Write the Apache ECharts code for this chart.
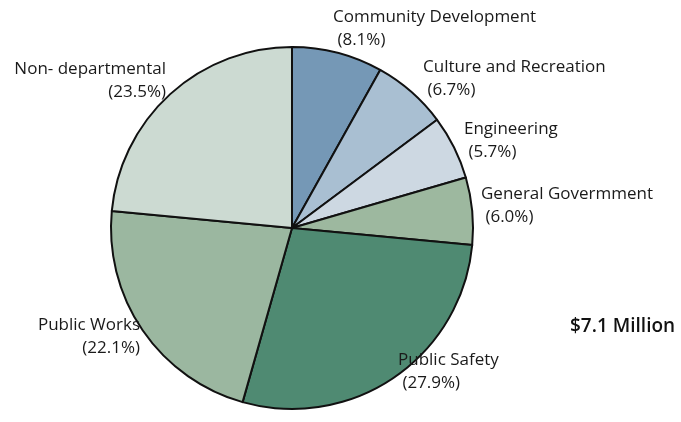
<!DOCTYPE html>
<html>
<head>
<meta charset="utf-8">
<script src="https://cdn.jsdelivr.net/npm/echarts@6/dist/echarts.min.js"></script>
<style>
  html, body { margin: 0; padding: 0; background: #fff; }
  #chart { width: 681px; height: 422px; }
</style>
</head>
<body>
<div id="chart"></div>
<script>
const categories = [
  'Community Development',
  'Culture and Recreation',
  'Engineering',
  'General Govermment',
  'Public Safety',
  'Public Works',
  'Non- departmental'
];
const shares = [8.1, 6.7, 5.7, 6.0, 27.9, 22.1, 23.5];
const totalLabel = '$7.1 Million';

const sliceColors = ['#7598b6', '#a9bfd2', '#cdd8e2', '#9db89f', '#4f8a72', '#9bb7a0', '#ccdad2'];
// where each label's anchor sits (x, y, align)
const labelSpots = [
  [333, 6, 'left'],
  [423, 56, 'left'],
  [464, 118, 'left'],
  [481, 183, 'left'],
  [398, 349, 'left'],
  [140, 314, 'right'],
  [166, 58, 'right']
];

const chart = echarts.init(document.getElementById('chart'));
chart.setOption({
  animation: false,
  title: {
    text: totalLabel,
    left: 565,
    top: 312,
    textStyle: { fontFamily: 'Open Sans', fontSize: 19, fontWeight: 600, color: '#111' }
  },
  series: [{
    type: 'pie',
    center: [292, 228],
    radius: 181,
    startAngle: 90,
    clockwise: true,
    data: categories.map((name, i) => ({
      name: name,
      value: shares[i],
      itemStyle: { color: sliceColors[i] }
    })),
    itemStyle: { borderColor: '#111', borderWidth: 2 },
    label: {
      show: true,
      position: 'outside',
      formatter: p => p.name + '\n' + (labelSpots[p.dataIndex][2] === 'left' ? ' ' : '') + '(' + p.value.toFixed(1) + '%)',
      fontFamily: 'Open Sans',
      fontSize: 17,
      lineHeight: 23,
      color: '#1a1a1a',
      overflow: 'none',
      width: 300
    },
    labelLine: { show: false },
    labelLayout: p => ({
      x: labelSpots[p.dataIndex][0],
      y: labelSpots[p.dataIndex][1],
      align: labelSpots[p.dataIndex][2],
      verticalAlign: 'top',
      hideOverlap: false
    }),
    emphasis: { disabled: true }
  }]
});
</script>
</body>
</html>
